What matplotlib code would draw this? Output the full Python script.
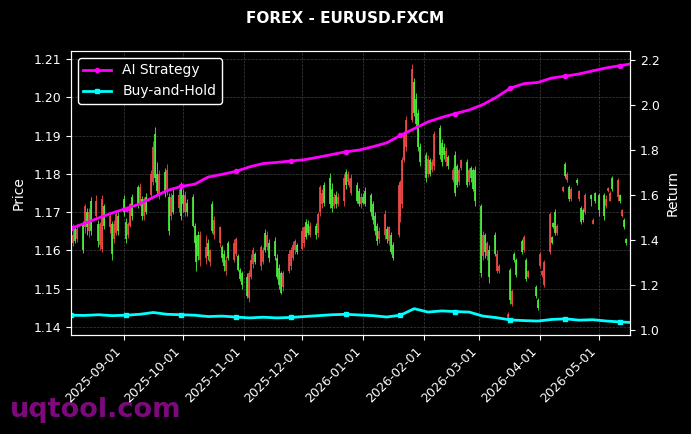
import numpy as np
import pandas as pd
import matplotlib
matplotlib.use("Agg")
import matplotlib.pyplot as plt
import matplotlib.dates as mdates

# ---------------- data (prices in 1e-4 units, weekday candles from 2025-08-05) ----------------
candle_start = "2025-08-05"
closes = [
    11685, 11640, 11625, 11655,
    11600, 11715, 11660, 11700, 11650,
    11730, 11625, 11670, 11735, 11665,
    11690, 11590, 11670, 11695, 11650,
    11700, 11630, 11670, 11720, 11690,
    11720, 11765, 11690, 11735, 11700,
    11800, 11870, 11790, 11755, 11800,
    11750, 11810, 11650, 11740, 11700,
    11745, 11690, 11720, 11745, 11700,
    11665, 11620, 11570, 11585, 11640,
    11610, 11585, 11600, 11650, 11680,
    11660, 11580, 11560, 11575, 11580,
    11620, 11630, 11550, 11525, 11510,
    11480, 11540, 11575, 11600, 11570,
    11610, 11600, 11600, 11640, 11580,
    11585, 11530, 11510, 11490, 11540,
    11590, 11600, 11615, 11625, 11595,
    11650, 11660, 11635, 11645, 11665,
    11640, 11695, 11765, 11750, 11725,
    11720, 11710, 11740, 11720, 11740,
    11790, 11770, 11800, 11780, 11790,
    11730, 11720, 11740, 11725, 11720,
    11700, 11680, 11650, 11625, 11650,
    11695, 11630, 11660, 11595, 11580,
    11770, 11780, 11835, 11905, 11940,
    12075, 11960, 11930, 11870, 11830,
    11790, 11840, 11800, 11830, 11905,
    11850, 11830, 11850, 11860, 11820,
    11810, 11750, 11770, 11810, 11835,
    11770, 11810, 11790, 11760, 11730,
    11540, 11640, 11595, 11620, 11530,
    11590, 11590, 11560, None, None,
    11435, 11470, 11495, 11575, 11535,
    11595, 11635, 11525, 11545, None,
    11480, 11450, 11590, 11545, 11570,
    11695, 11620, 11660, 11645, 11665,
    11765, 11795, 11800, 11735, 11760,
    11775, 11755, 11675, 11680, 11745,
    11735, 11680, 11730, None, 11705,
    11690, 11735, 11762, 11750, 11760,
    11785, 11730, 11705, 11660, 11620,
]
opens = [
    11640, 11620, 11655, 11630,
    11670, 11660, 11700, 11650, 11730,
    11690, 11670, 11615, 11605, 11715,
    11660, 11670, 11630, 11645, 11690,
    11735, 11675, 11640, 11665, 11740,
    11765, 11725, 11735, 11690, 11740,
    11745, 11780, 11905, 11800, 11745,
    11805, 11760, 11740, 11690, 11745,
    11710, 11770, 11745, 11700, 11725,
    11740, 11665, 11630, 11640, 11575,
    11580, 11620, 11570, 11720, 11640,
    11620, 11610, 11590, 11545, 11620,
    11575, 11590, 11585, 11550, 11540,
    11530, 11475, 11530, 11565, 11590,
    11560, 11570, 11645, 11610, 11620,
    11625, 11580, 11555, 11540, 11505,
    11545, 11560, 11580, 11600, 11615,
    11605, 11620, 11675, 11670, 11640,
    11665, 11645, 11700, 11720, 11770,
    11790, 11760, 11715, 11745, 11720,
    11730, 11805, 11780, 11770, 11750,
    11770, 11755, 11720, 11740, 11755,
    11745, 11720, 11690, 11665, 11630,
    11640, 11655, 11625, 11640, 11615,
    11640, 11690, 11720, 11835, 11870,
    11940, 12040, 11995, 11960, 11870,
    11850, 11800, 11835, 11810, 11820,
    11920, 11880, 11870, 11830, 11845,
    11785, 11850, 11820, 11780, 11815,
    11830, 11780, 11815, 11810, 11810,
    11715, 11585, 11640, 11585, 11600,
    11640, 11545, 11545, None, None,
    11415, 11550, 11460, 11590, 11575,
    11625, 11600, 11575, 11530, None,
    11505, 11470, 11560, 11535, 11510,
    11595, 11635, 11672, 11700, 11645,
    11755, 11825, 11785, 11765, 11735,
    11785, 11735, 11710, 11705, 11700,
    11745, 11670, 11750, None, 11745,
    11745, 11715, 11755, 11730, 11790,
    11740, 11745, 11690, 11680, 11630,
]
highs = [
    11700, 11670, 11662, 11668,
    11678, 11720, 11712, 11710, 11740,
    11745, 11680, 11675, 11745, 11722,
    11700, 11678, 11680, 11700, 11700,
    11745, 11685, 11675, 11725, 11748,
    11772, 11775, 11742, 11740, 11750,
    11810, 11885, 11922, 11830, 11810,
    11815, 11825, 11750, 11750, 11760,
    11760, 11780, 11760, 11755, 11735,
    11748, 11672, 11640, 11650, 11650,
    11640, 11630, 11605, 11730, 11690,
    11665, 11615, 11600, 11585, 11625,
    11630, 11635, 11590, 11555, 11545,
    11540, 11550, 11590, 11610, 11595,
    11615, 11610, 11655, 11650, 11630,
    11635, 11590, 11565, 11545, 11545,
    11600, 11610, 11625, 11630, 11620,
    11660, 11665, 11682, 11680, 11675,
    11672, 11700, 11770, 11760, 11780,
    11802, 11775, 11750, 11755, 11750,
    11800, 11812, 11808, 11790, 11800,
    11778, 11762, 11750, 11750, 11765,
    11750, 11730, 11700, 11672, 11660,
    11705, 11665, 11665, 11648, 11622,
    11775, 11785, 11845, 11912, 11950,
    12087, 12050, 12010, 11970, 11880,
    11858, 11848, 11842, 11838, 11912,
    11928, 11890, 11880, 11870, 11850,
    11818, 11860, 11825, 11815, 11840,
    11838, 11815, 11820, 11815, 11820,
    11720, 11650, 11645, 11625, 11615,
    11648, 11600, 11565, None, None,
    11440, 11555, 11500, 11595, 11580,
    11630, 11640, 11580, 11550, None,
    11510, 11475, 11595, 11550, 11575,
    11700, 11638, 11675, 11708, 11670,
    11768, 11830, 11805, 11770, 11765,
    11788, 11758, 11715, 11712, 11750,
    11748, 11685, 11752, None, 11750,
    11750, 11745, 11765, 11755, 11795,
    11790, 11748, 11708, 11685, 11632,
]
lows = [
    11625, 11612, 11620, 11622,
    11592, 11645, 11640, 11635, 11640,
    11680, 11610, 11600, 11595, 11655,
    11645, 11575, 11620, 11640, 11640,
    11690, 11620, 11632, 11660, 11680,
    11712, 11715, 11680, 11680, 11695,
    11740, 11770, 11780, 11745, 11735,
    11740, 11745, 11640, 11680, 11695,
    11700, 11680, 11700, 11690, 11690,
    11660, 11610, 11545, 11575, 11560,
    11565, 11575, 11560, 11645, 11630,
    11610, 11570, 11545, 11535, 11575,
    11570, 11585, 11545, 11520, 11500,
    11475, 11465, 11525, 11555, 11565,
    11550, 11565, 11595, 11600, 11570,
    11575, 11525, 11500, 11485, 11495,
    11540, 11550, 11575, 11590, 11590,
    11600, 11610, 11630, 11640, 11635,
    11630, 11635, 11690, 11710, 11715,
    11710, 11700, 11710, 11710, 11715,
    11715, 11760, 11770, 11765, 11745,
    11725, 11715, 11712, 11720, 11715,
    11690, 11670, 11640, 11615, 11620,
    11630, 11620, 11615, 11590, 11575,
    11635, 11675, 11710, 11830, 11860,
    11935, 11950, 11920, 11860, 11820,
    11780, 11792, 11795, 11805, 11810,
    11840, 11820, 11840, 11820, 11812,
    11780, 11742, 11765, 11772, 11810,
    11765, 11770, 11780, 11755, 11715,
    11530, 11575, 11580, 11575, 11515,
    11585, 11540, 11540, None, None,
    11410, 11460, 11455, 11570, 11530,
    11590, 11595, 11520, 11528, None,
    11475, 11445, 11555, 11530, 11505,
    11590, 11618, 11658, 11640, 11640,
    11752, 11790, 11780, 11730, 11730,
    11772, 11730, 11670, 11675, 11695,
    11715, 11668, 11725, None, 11690,
    11680, 11710, 11752, 11728, 11755,
    11730, 11725, 11688, 11655, 11615,
]

# weekly return curves (right axis)
line_dates = [
    "2025-08-05", "2025-08-12", "2025-08-19", "2025-08-26", "2025-09-02", "2025-09-09",
    "2025-09-16", "2025-09-23", "2025-09-30", "2025-10-07", "2025-10-14", "2025-10-21",
    "2025-10-28", "2025-11-04", "2025-11-11", "2025-11-18", "2025-11-25", "2025-12-02",
    "2025-12-09", "2025-12-16", "2025-12-23", "2025-12-30", "2026-01-06", "2026-01-13",
    "2026-01-20", "2026-01-27", "2026-02-03", "2026-02-10", "2026-02-17", "2026-02-24",
    "2026-03-03", "2026-03-10", "2026-03-17", "2026-03-24", "2026-03-31", "2026-04-07",
    "2026-04-14", "2026-04-21", "2026-04-28", "2026-05-05", "2026-05-12", "2026-05-17",
]
ai_strategy = [
    1.452, 1.474, 1.498, 1.520, 1.540, 1.560, 1.590, 1.620, 1.638, 1.648, 1.680, 1.692,
    1.705, 1.725, 1.740, 1.745, 1.751, 1.757, 1.768, 1.780, 1.792, 1.800, 1.815, 1.832,
    1.865, 1.895, 1.925, 1.945, 1.962, 1.978, 2.002, 2.035, 2.075, 2.095, 2.100, 2.120,
    2.128, 2.138, 2.152, 2.165, 2.175, 2.182,
]
buy_hold = [
    1.066, 1.065, 1.068, 1.064, 1.066, 1.070, 1.078, 1.070, 1.068, 1.066, 1.060, 1.062,
    1.058, 1.054, 1.057, 1.054, 1.056, 1.060, 1.064, 1.068, 1.070, 1.067, 1.064, 1.058,
    1.066, 1.095, 1.080, 1.085, 1.082, 1.080, 1.062, 1.055, 1.045, 1.042, 1.040, 1.047,
    1.050, 1.044, 1.046, 1.040, 1.036, 1.034,
]
price_ticks = [1.14, 1.15, 1.16, 1.17, 1.18, 1.19, 1.20, 1.21]
return_ticks = [1.0, 1.2, 1.4, 1.6, 1.8, 2.0, 2.2]

# ---------------- plotting ----------------
def arr(v):
    return np.array([np.nan if x is None else x / 10000.0 for x in v], dtype=float)

o, h, l, c = arr(opens), arr(highs), arr(lows), arr(closes)
cdates = pd.bdate_range(candle_start, periods=len(closes))
valid = ~np.isnan(c)
up = c >= o
UP_C, DN_C = "#f04a46", "#4cf03c"
cols = np.where(up, UP_C, DN_C)

fig = plt.figure(figsize=(6.91, 4.34), dpi=100, facecolor="black")
ax = fig.add_axes([0.1027, 0.2281, 0.8090, 0.6544])
ax.set_facecolor("black")

xd = cdates[valid]
ax.vlines(xd, l[valid], h[valid], colors=cols[valid], lw=0.6)
ax.vlines(xd, np.minimum(o, c)[valid], np.maximum(o, c)[valid], colors=cols[valid], lw=1.25)

ax.set_ylim(1.1379, 1.2121)
ax.set_yticks(price_ticks)
ax.set_yticklabels([f"{t:.2f}" for t in price_ticks])
ldates = pd.to_datetime(line_dates)
ax.set_xlim(ldates[0], ldates[-1])
ax.xaxis.set_major_locator(mdates.MonthLocator())
ax.xaxis.set_major_formatter(mdates.DateFormatter("%Y-%m-%d"))
plt.setp(ax.get_xticklabels(), rotation=45, ha="right")
ax.grid(True, color="gray", linestyle="--", linewidth=0.5, alpha=0.5)
ax.set_ylabel("Price", color="white", fontsize=10, labelpad=6)

ax2 = ax.twinx()
ax2.plot(ldates, ai_strategy, color="#ff00ff", lw=2, marker="o", markersize=3,
         markevery=4, label="AI Strategy")
ax2.plot(ldates, buy_hold, color="#00ffff", lw=2, marker="s", markersize=3,
         markevery=4, label="Buy-and-Hold")
ax2.set_ylim(0.978, 2.24)
ax2.set_yticks(return_ticks)
ax2.set_yticklabels([f"{t:.1f}" for t in return_ticks])
ax2.set_ylabel("Return", color="white", fontsize=10)

for a in (ax, ax2):
    a.tick_params(colors="white", labelsize=9)
    for s in a.spines.values():
        s.set_color("white")

leg = ax2.legend(loc="upper left", fontsize=10, facecolor="black", edgecolor="white",
                 labelcolor="white", framealpha=1.0)

fig.text(0.5, 0.958, "FOREX - EURUSD.FXCM", color="white", fontsize=11,
         fontweight="bold", ha="center", va="center")
fig.text(0.015, 0.039, "uqtool.com", color="#850a85", fontsize=19.5, fontweight="bold",
         ha="left", va="baseline", alpha=0.95, zorder=-1)

fig.savefig("out.png", dpi=100, facecolor="black")
